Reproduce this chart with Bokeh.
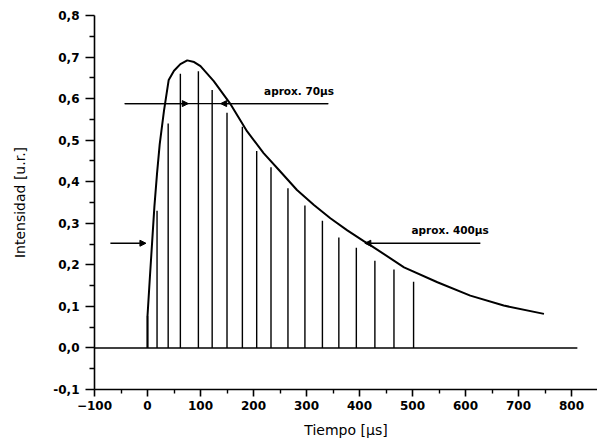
from bokeh.plotting import figure
from bokeh.models import (FixedTicker, CustomJSTickFormatter, Arrow, NormalHead,
                          Label, Range1d, Title)
from bokeh.embed import file_html
from bokeh.resources import INLINE

# ---- data ----
curve_time = [0, 0, 4.5, 9, 13, 18, 23, 31, 40, 50, 62, 75, 88, 100, 125, 157, 188,
              219, 251, 282, 314, 345, 377, 408, 421, 484, 547, 609, 672, 748]
curve_intensity = [0.0, 0.077, 0.17, 0.26, 0.34, 0.42, 0.49, 0.57, 0.645, 0.667, 0.683,
                   0.692, 0.688, 0.678, 0.642, 0.586, 0.521, 0.469, 0.424, 0.38, 0.344,
                   0.312, 0.283, 0.257, 0.247, 0.194, 0.158, 0.126, 0.102, 0.082]

stem_time = [0, 18, 39, 62, 96, 122, 150, 179, 206, 233, 265, 297, 330, 361, 394,
             429, 465, 502]
stem_intensity = [0.077, 0.33, 0.54, 0.66, 0.666, 0.621, 0.566, 0.532, 0.474, 0.435,
                  0.384, 0.343, 0.306, 0.266, 0.241, 0.21, 0.189, 0.159]

x_ticks = [-100, 0, 100, 200, 300, 400, 500, 600, 700, 800]
x_minor = [-50, 50, 150, 250, 350, 450, 550, 650, 750]
y_ticks = [-0.1, 0.0, 0.1, 0.2, 0.3, 0.4, 0.5, 0.6, 0.7, 0.8]
y_minor = [-0.05, 0.05, 0.15, 0.25, 0.35, 0.45, 0.55, 0.65, 0.75]

baseline_span = [-100, 811]

# annotation lines: level, span, arrow heads
high_level = 0.588
high_span = [-43, 341]
high_heads = [(-43, 77), (341, 138)]
low_level = 0.252
low_arrows = [(-70, -3), (628, 410)]

note_70 = ("aprox. 70µs", 286, 0.618)
note_400 = ("aprox. 400µs", 571, 0.284)

x_title = "Tiempo [µs]"
y_title = "Intensidad [u.r.]"

FONT = "DejaVu Sans"

p = figure(width=597, height=446, output_backend="svg", toolbar_location=None,
           x_range=Range1d(-100, 849), y_range=Range1d(-0.1, 0.8),
           min_border_left=94, min_border_right=0, min_border_top=15,
           min_border_bottom=57)
p.outline_line_color = None
p.xgrid.visible = False
p.ygrid.visible = False
p.background_fill_color = "white"
p.border_fill_color = "white"

for ax in (p.xaxis[0], p.yaxis[0]):
    ax.axis_line_width = 1.6
    ax.axis_line_color = "black"
    ax.major_tick_line_width = 1.6
    ax.minor_tick_line_width = 1.4
    ax.major_tick_line_color = "black"
    ax.minor_tick_line_color = "black"
    ax.major_tick_in = 0
    ax.minor_tick_in = 0
    ax.major_label_text_font = FONT
    ax.major_label_text_font_size = "12px"
    ax.major_label_text_font_style = "bold"
    ax.major_label_text_color = "black"

p.xaxis[0].ticker = FixedTicker(ticks=x_ticks, minor_ticks=x_minor)
p.yaxis[0].ticker = FixedTicker(ticks=y_ticks, minor_ticks=y_minor)
p.xaxis[0].major_tick_out = 7
p.xaxis[0].minor_tick_out = 4
p.yaxis[0].major_tick_out = 9
p.yaxis[0].minor_tick_out = 5
p.xaxis[0].major_label_standoff = 4
p.yaxis[0].major_label_standoff = 6
p.yaxis[0].formatter = CustomJSTickFormatter(
    code="return tick.toFixed(1).replace('.', ',');")

p.yaxis[0].axis_label = y_title
p.yaxis[0].axis_label_text_font = FONT
p.yaxis[0].axis_label_text_font_size = "14px"
p.yaxis[0].axis_label_text_font_style = "normal"
p.yaxis[0].axis_label_text_color = "black"
p.yaxis[0].axis_label_standoff = 22

p.add_layout(Title(text=x_title, align="center", offset=-32, standoff=15,
                   text_font=FONT, text_font_size="14px", text_font_style="normal",
                   text_color="black"), "below")

# baseline at zero
p.segment(x0=[baseline_span[0]], y0=[0], x1=[baseline_span[1]], y1=[0],
          line_color="black", line_width=1.6)

# stems
p.segment(x0=stem_time, y0=[0] * len(stem_time), x1=stem_time, y1=stem_intensity,
          line_color="black", line_width=1.4)

# curve
p.line(curve_time, curve_intensity, line_color="black", line_width=2)

# annotation arrows
p.segment(x0=[high_span[0]], y0=[high_level], x1=[high_span[1]], y1=[high_level],
          line_color="black", line_width=1.4)
for xs, xe in high_heads:
    p.add_layout(Arrow(end=NormalHead(size=6, fill_color="black", line_color="black"),
                       x_start=xs, y_start=high_level, x_end=xe, y_end=high_level,
                       line_color="black", line_width=1.4))
for xs, xe in low_arrows:
    p.add_layout(Arrow(end=NormalHead(size=6, fill_color="black", line_color="black"),
                       x_start=xs, y_start=low_level, x_end=xe, y_end=low_level,
                       line_color="black", line_width=1.4))

for txt, tx, ty in (note_70, note_400):
    p.add_layout(Label(x=tx, y=ty, text=txt, text_font=FONT, text_font_size="10.5px",
                       text_font_style="bold", text_align="center",
                       text_baseline="middle", text_color="black"))

open("out.html", "w").write(file_html(p, INLINE))
